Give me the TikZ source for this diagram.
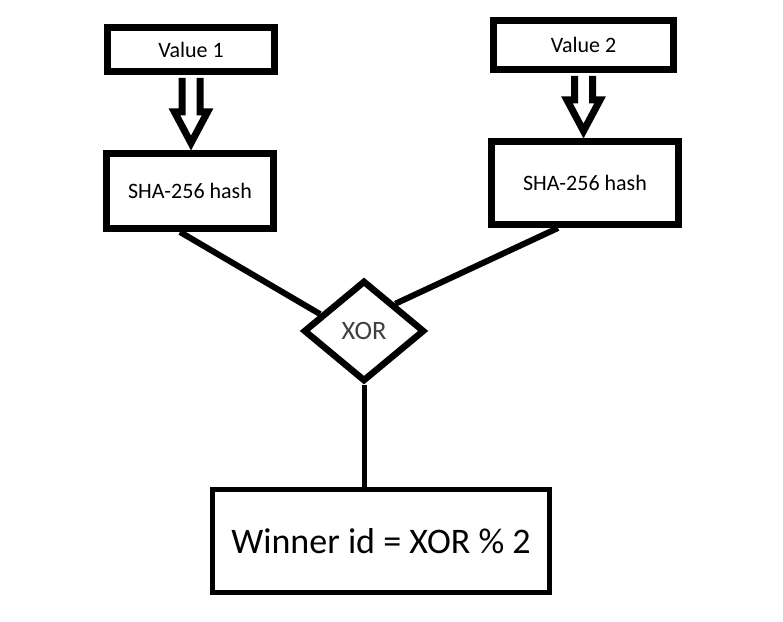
\documentclass[tikz,border=0pt]{standalone}
\usepackage{fontspec}
\setmainfont{Carlito}
\usetikzlibrary{shapes.geometric,calc}
\tikzset{bx/.style={rectangle, draw=black, line width=7pt, fill=white, inner sep=0pt,
            font=\fontsize{22}{26}\selectfont},
         dm/.style={diamond, draw=black, line width=6.5pt, fill=white, inner sep=0pt,
            minimum width=121pt, minimum height=101pt, font=\fontsize{26.5}{30}\selectfont,
            text=black!75},
         fat/.style={draw=black, line width=7pt, fill=white, line join=miter},
         ln/.style={draw=black, line width=6pt}}
% hollow arrow from one box down to the next
\newcommand{\fatarrow}[2]{%
  \draw[fat] let \p1=(#1.south), \p2=(#2.north) in
    (\x1-9pt,\y1-3pt) -- (\x1-9pt,\y2+38pt) -- (\x1-16.5pt,\y2+38pt) -- (\x1,\y2+7pt)
    -- (\x1+16.5pt,\y2+38pt) -- (\x1+9pt,\y2+38pt) -- (\x1+9pt,\y1-3pt);}

\begin{document}
\begin{tikzpicture}[x=1pt, y=1pt]
\useasboundingbox (0,0) rectangle (783,621);
\node[bx, minimum width=167pt, minimum height=44pt] (v1) at (191,571.5) {Value 1};
\node[bx, minimum width=180pt, minimum height=49pt] (v2) at (583.5,576) {Value 2};
\node[bx, minimum width=167pt, minimum height=75pt] (h1) at (190,430) {SHA-256 hash};
\node[bx, minimum width=187pt, minimum height=83pt] (h2) at (585,438) {SHA-256 hash};
\node[dm] (xor) at (364,290) {XOR};
\node[bx, line width=5pt, minimum width=337pt, minimum height=103pt,
      font=\fontsize{36}{43}\selectfont] (win) at (381,80) {Winner id = XOR \% 2};
\fatarrow{v1}{h1}
\fatarrow{v2}{h2}
\draw[ln] ([xshift=-10pt]h1.south) -- (xor.159);
\draw[ln] ([xshift=-27pt]h2.south) -- (xor.41);
\draw[ln, line width=5pt] (xor.south) -- (xor.south |- win.north);
\end{tikzpicture}
\end{document}
